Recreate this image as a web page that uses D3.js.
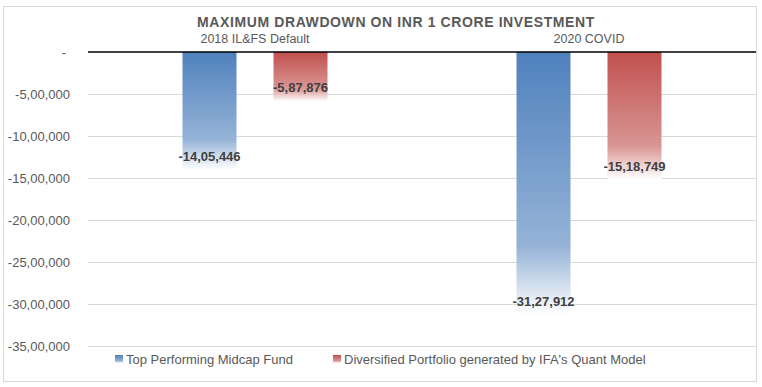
<!DOCTYPE html>
<html lang="en">
<head>
  <meta charset="UTF-8">
  <title>Maximum Drawdown on INR 1 Crore Investment</title>
  <script src="https://d3js.org/d3.v7.min.js"></script>
  <style>
    body { margin: 0; background: #fff; font-family: "Liberation Sans", Arial, sans-serif; }
    svg text { fill: #595959; }
  </style>
</head>
<body>
  <svg id="chart" width="762" height="387"></svg>

  <script>
    const categories = ["2018 IL&FS Default", "2020 COVID"];
    const seriesNames = ["Top Performing Midcap Fund", "Diversified Portfolio generated by IFA's Quant Model"];
    const midcapValues = [-1405446, -3127912];
    const quantValues = [-587876, -1518749];
    const tickValues = [0, -500000, -1000000, -1500000, -2000000, -2500000, -3000000, -3500000];
    const tickLabels = ["-", "-5,00,000", "-10,00,000", "-15,00,000", "-20,00,000", "-25,00,000", "-30,00,000", "-35,00,000"];
    const valueLabels = [["-14,05,446", "-31,27,912"], ["-5,87,876", "-15,18,749"]];

    const colors = [
      { top: "#4f81bd", mid: "#95b3d7" },
      { top: "#c0504d", mid: "#d99694" }
    ];

    const svg = d3.select("#chart");
    const plot = { left: 88, right: 756, top: 52, bottom: 346 };

    // gradients like the Excel fill
    const defs = svg.append("defs");
    colors.forEach((c, i) => {
      const grad = defs.append("linearGradient")
        .attr("id", "grad" + i)
        .attr("x1", 0).attr("y1", 0).attr("x2", 0).attr("y2", 1);
      grad.append("stop").attr("offset", "0%").attr("stop-color", c.top);
      grad.append("stop").attr("offset", "74%").attr("stop-color", c.mid);
      grad.append("stop").attr("offset", "100%").attr("stop-color", "#ffffff");
    });

    // outer border
    svg.append("rect")
      .attr("x", 3.5).attr("y", 6.5)
      .attr("width", 753).attr("height", 375)
      .attr("fill", "none")
      .attr("stroke", "#d9d9d9");

    const y = d3.scaleLinear()
      .domain([0, -3500000])
      .range([plot.top, plot.bottom]);

    const x0 = d3.scaleBand()
      .domain(categories)
      .range([plot.left, plot.right])
      .padding(0);

    const groupW = 145;
    const x1 = d3.scaleBand()
      .domain(d3.range(seriesNames.length))
      .range([(x0.bandwidth() - groupW) / 2, (x0.bandwidth() + groupW) / 2])
      .paddingInner(37 / 91)
      .paddingOuter(0);

    // gridlines
    svg.append("g")
      .selectAll("line")
      .data(tickValues.slice(1))
      .join("line")
      .attr("x1", plot.left).attr("x2", plot.right)
      .attr("y1", d => Math.round(y(d)) + 0.5)
      .attr("y2", d => Math.round(y(d)) + 0.5)
      .attr("stroke", "#d9d9d9");

    // y axis labels
    const yAxis = d3.axisLeft(y)
      .tickValues(tickValues)
      .tickFormat((d, i) => tickLabels[i])
      .tickSize(0)
      .tickPadding(18);

    const yg = svg.append("g")
      .attr("transform", `translate(${plot.left},0)`)
      .call(yAxis);
    yg.select(".domain").remove();
    yg.selectAll("text")
      .attr("font-size", 13)
      .attr("font-family", "Liberation Sans, Arial, sans-serif")
      .style("fill", "#595959");
    yg.selectAll("text").filter((d, i) => i === 0).attr("dx", -4);

    // bars
    const seriesData = [midcapValues, quantValues];
    const bars = svg.append("g");
    seriesData.forEach((vals, s) => {
      bars.selectAll(".bar" + s)
        .data(vals)
        .join("rect")
        .attr("class", "bar" + s)
        .attr("x", (d, i) => x0(categories[i]) + x1(s))
        .attr("width", x1.bandwidth())
        .attr("y", y(0))
        .attr("height", d => y(d) - y(0))
        .attr("fill", `url(#grad${s})`);

      bars.selectAll(".lbl" + s)
        .data(vals)
        .join("text")
        .attr("class", "lbl" + s)
        .attr("x", (d, i) => x0(categories[i]) + x1(s) + x1.bandwidth() / 2)
        .attr("y", d => y(d) - 9)
        .attr("text-anchor", "middle")
        .attr("font-size", 13)
        .attr("font-weight", "bold")
        .style("fill", "#404040")
        .text((d, i) => valueLabels[s][i]);
    });

    // zero line
    svg.append("line")
      .attr("x1", plot.left).attr("x2", plot.right)
      .attr("y1", y(0)).attr("y2", y(0))
      .attr("stroke", "#000")
      .attr("stroke-width", 1.5);

    // category labels above the groups
    svg.append("g")
      .selectAll("text")
      .data(categories)
      .join("text")
      .attr("x", d => x0(d) + x0.bandwidth() / 2)
      .attr("y", 43)
      .attr("text-anchor", "middle")
      .attr("font-size", 12.5)
      .text(d => d);

    // title
    svg.append("text")
      .attr("x", 396)
      .attr("y", 27)
      .attr("text-anchor", "middle")
      .attr("font-size", 14)
      .attr("font-weight", "bold")
      .attr("letter-spacing", 0.6)
      .text("MAXIMUM DRAWDOWN ON INR 1 CRORE INVESTMENT");

    // legend
    const legendX = [115, 333];
    const legend = svg.append("g");
    seriesNames.forEach((name, i) => {
      legend.append("rect")
        .attr("x", legendX[i]).attr("y", 355)
        .attr("width", 8).attr("height", 8)
        .attr("fill", `url(#grad${i})`);
      legend.append("text")
        .attr("x", legendX[i] + 11)
        .attr("y", 364)
        .attr("font-size", 13)
        .text(name);
    });
  </script>
</body>
</html>
